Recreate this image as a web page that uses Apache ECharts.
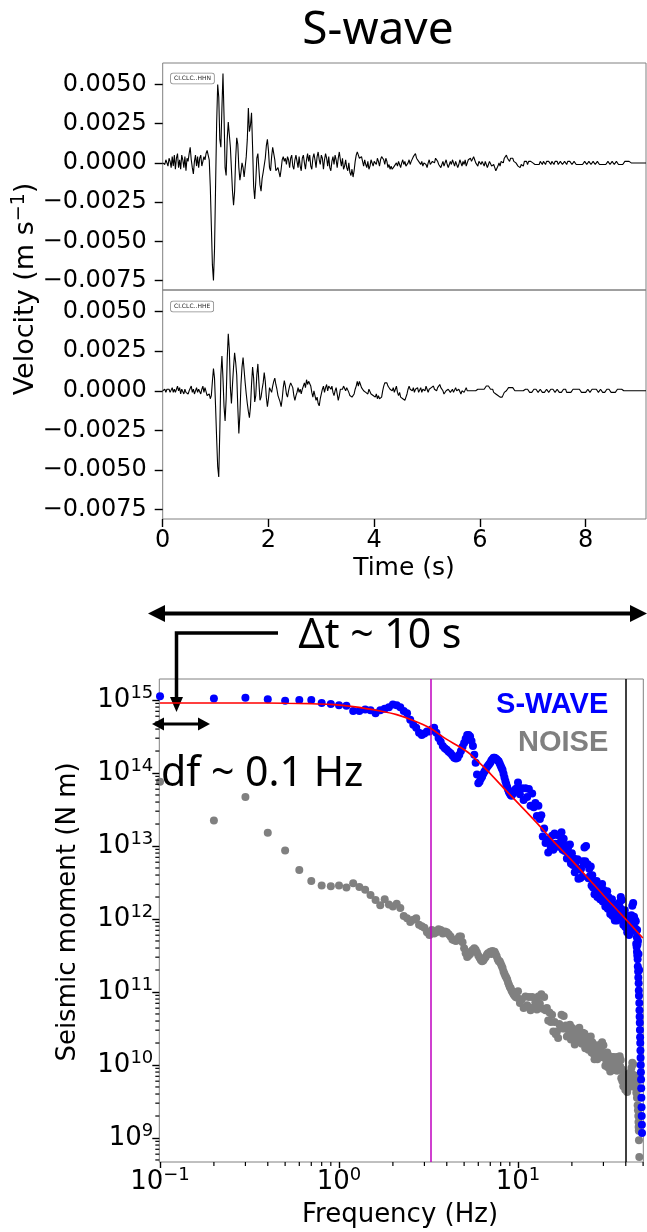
<!DOCTYPE html>
<html><head><meta charset="utf-8">
<script src="https://cdn.jsdelivr.net/npm/echarts@6.0.0/dist/echarts.min.js"></script>
<style>html,body{margin:0;padding:0;background:#fff}#c{width:647px;height:1232px}</style>
</head><body><div id="c"></div>
<script>
// ---------------- DATA ----------------
const waveTimeStep = 0.02; // s, sampling of the traces below
// velocity traces in mm/s (1e-3 m/s), one value per 0.02 s, 0 .. 9.14 s
const hhnVelMm = [
0,0.1,-0.1,0.2,0.0,-0.2,0.3,0.1,-0.3,0.4,
-0.2,0.5,-0.4,0.3,0.6,-0.3,0.2,-0.4,0.5,0.2,
-0.3,0.4,-0.5,0.3,0.1,0.6,1.0,0.2,-0.3,-0.7,
0.1,0.5,-0.2,0.4,-0.3,0.3,0.5,-0.2,0.1,0.4,
0.2,0.6,0.8,0.5,0.2,-1.5,-4.0,-6.5,-7.5,-5.5,
-1.5,2.5,5.0,4.2,1.5,1.0,3.5,5.7,3.0,-0.3,
-0.8,1.5,2.6,1.8,1.0,-0.4,-1.8,-2.7,-1.8,0.3,
1.6,1.2,-0.3,-1.1,-0.6,0.0,-0.3,-0.9,-0.8,0.4,
1.5,3.5,2.0,2.4,3.2,1.0,-1.5,-2.3,-1.2,0.3,
0.6,-0.4,-1.4,-1.8,-1.0,-0.6,-0.7,0.3,1.1,1.5,
0.8,-0.3,-0.5,0.4,1.0,1.1,0.2,-0.5,-0.6,-0.3,
-0.6,-0.9,-0.4,0.2,0.4,0.1,0.3,-0.1,0.4,0.2,
-0.3,0.3,0.5,-0.2,-0.4,0.2,0.5,0.1,-0.3,0.4,
-0.2,-0.5,0.3,0.5,0.0,-0.4,0.2,0.6,0.1,0.5,
-0.2,-0.4,0.3,0.6,0.2,-0.3,0.4,0.7,0.2,-0.1,
0.5,0.3,-0.4,0.2,0.6,0.3,-0.2,0.4,-0.3,-0.5,
0.1,0.4,-0.1,0.5,0.2,-0.3,0.3,0.7,0.2,-0.2,
0.3,-0.4,-0.2,0.2,-0.3,-0.5,0.0,-0.6,-0.8,-0.4,
-0.9,-0.5,0.1,0.5,0.7,0.5,0.3,0.4,0.4,0.1,
-0.2,0.2,-0.1,-0.3,0.1,-0.4,-0.2,0.2,0.1,-0.2,
0.1,0.2,-0.1,0.3,0.1,-0.2,0.2,0.4,0.5,0.2,
-0.1,0.3,0.1,-0.3,-0.1,-0.4,-0.2,-0.4,-0.5,-0.2,
-0.3,0.0,-0.2,0.1,-0.1,-0.3,0.0,0.2,-0.1,0.1,
-0.2,-0.3,0.0,0.2,-0.1,0.1,0.2,0.4,0.5,0.6,
0.3,0.4,0.1,0.2,-0.1,0.1,-0.2,0.0,0.1,-0.1,
-0.3,0.0,0.2,-0.1,-0.2,0.1,0.2,0.0,0.3,0.3,
0.1,-0.1,0.0,-0.3,-0.1,0.1,-0.2,0.0,0.2,-0.1,
-0.3,-0.1,0.1,-0.1,0.2,0.0,-0.2,0.1,0.0,-0.3,
-0.1,0.2,0.0,-0.2,0.1,-0.1,0.2,-0.2,0.0,0.2,
0.1,0.3,0.1,0.2,0.4,0.2,0.0,0.1,-0.2,0.1,
0.2,-0.1,0.1,0.0,-0.2,0.1,-0.1,-0.3,-0.1,0.1,
0.0,-0.2,-0.3,-0.1,-0.3,-0.5,-0.4,-0.2,0.0,-0.2,
0.1,0.2,0.0,0.3,0.4,0.5,0.3,0.2,0.1,0.3,
0.4,0.3,0.1,0.2,0.0,-0.1,-0.2,-0.1,-0.3,-0.1,
0.0,-0.2,0.1,0.0,0.1,-0.1,0.1,0.0,0.1,0.1,
0.0,0.1,-0.1,0.0,-0.1,-0.2,-0.1,0.1,0.0,-0.1,
0.1,0.0,-0.1,0.1,0.0,0.1,0.0,-0.1,0.1,0.0,
-0.1,0.1,0.0,0.1,-0.1,0.0,0.1,0.0,-0.1,0.0,
0.1,0.0,-0.1,0.1,0.0,0.1,0.0,-0.1,0.0,0.1,
0.0,-0.1,-0.2,-0.1,0.0,-0.1,-0.2,-0.1,0.0,0.1,
0.0,-0.1,0.0,0.1,0.0,-0.1,0.0,0.1,0.0,-0.1,
0.0,0.1,0.0,-0.1,0.0,-0.1,-0.2,-0.1,0.0,-0.1,
0.0,0.1,0.0,-0.1,0.0,0.1,0.0,-0.1,0.0,0.1,
0.0,-0.1,-0.2,-0.1,0.0,-0.1,0.0,0.1,0.2,0.1,
0.0,0.1,0.0,0,0,0,0,0,0,0,
0,0,0,0,0,0,0,0
];
const hheVelMm = [
0,0.0,0.1,-0.1,0.1,0.0,0.1,-0.1,0.0,0.2,
-0.1,0.1,-0.1,0.1,0.3,0.0,0.2,-0.2,0.1,0.0,
-0.2,0.1,-0.1,0.0,-0.2,0.0,0.1,0.3,-0.1,0.1,
-0.2,0.0,0.2,-0.1,0.1,0.0,-0.2,0.1,0.3,-0.1,
0.2,0.1,-0.3,-0.4,-0.2,-0.5,-0.3,0.6,1.4,0.8,
-1.0,-3.0,-4.8,-5.45,-2.5,1.0,2.2,0.8,-1.0,-1.9,
-0.5,2.0,3.6,2.6,0.2,-0.8,0.4,1.5,2.4,1.8,
1.0,-1.0,-2.7,-1.5,0.4,1.5,2.1,1.3,0.5,-0.2,
-0.8,-1.3,-1.7,-1.0,0.4,1.5,0.8,-0.7,-0.3,1.0,
1.7,0.5,-0.6,-0.4,0.1,0.5,1.15,0.6,-0.4,-1.0,
-0.5,0.2,0.3,-0.1,0.3,0.6,0.8,0.4,0.1,-0.3,
-0.4,-0.7,-1.0,-0.5,0.2,0.65,0.3,-0.2,-0.4,0.0,
0.3,0.5,0.6,0.2,-0.3,-0.6,-0.3,-0.1,0.2,-0.1,
0.1,-0.2,0.1,0.3,0.5,0.2,0.7,0.4,0.6,0.7,
0.3,-0.1,-0.4,0.0,-0.3,-0.6,-0.4,-0.8,-0.95,-0.5,
-0.2,0.1,0.3,-0.1,0.2,0.4,0.0,0.3,0.4,0.1,
0.3,-0.1,-0.3,0.0,0.2,-0.2,-0.6,-0.3,0.1,0.2,
0.1,0.3,0.2,0.0,0.2,0.1,-0.1,-0.3,-0.2,-0.4,
-0.5,-0.2,0.1,0.3,0.6,0.3,0.6,0.4,0.2,0.3,
0.0,0.1,-0.1,0.0,-0.2,0.1,0.0,-0.2,-0.1,-0.3,
-0.2,-0.4,-0.2,-0.5,-0.3,-0.5,-0.6,-0.4,0.0,0.3,
0.5,0.4,0.5,0.3,0.4,0.1,0.2,0.0,0.2,-0.1,
0.1,0.3,-0.1,-0.3,-0.1,-0.4,-0.3,-0.5,-0.4,-0.6,
-0.5,-0.2,0.1,0.3,0.1,0.2,0.0,0.2,-0.1,0.1,
0.0,0.2,-0.1,0.0,0.2,-0.1,0.1,0.2,0.0,0.3,
0.1,-0.1,0.1,0.0,0.2,0.1,0.3,0.1,0.2,0.0,
0.2,0.3,0.4,0.2,0.3,0.0,-0.2,-0.1,0.0,-0.1,
0.1,0.0,-0.1,0.0,0.1,-0.1,0.0,0.2,0.0,-0.1,
0.1,0.0,-0.2,0.0,0.1,-0.1,0.0,0.2,0.0,-0.1,
0.0,0.1,0.0,-0.1,0.0,0.1,0.0,-0.1,0.1,0.0,
0.1,0.2,0.1,0.2,0.1,0.2,0.3,0.2,0.3,0.2,
0.1,0.0,0.1,-0.1,0.0,-0.2,-0.1,-0.3,-0.2,-0.4,
-0.3,-0.4,-0.3,-0.1,-0.2,0.0,0.1,0.2,0.3,0.2,
0.1,0.2,0.1,0.0,0.1,0.0,0.1,0.0,-0.1,0.0,
0.1,0.0,-0.1,0.1,0.0,0.1,0.0,-0.1,-0.2,-0.1,
0.0,0.1,0.0,0.1,0.0,-0.1,0.0,0.1,0.0,-0.1,
-0.2,-0.1,0.0,0.1,0.0,-0.1,0.0,0.1,0.2,0.1,
0.0,-0.1,0.0,0.1,0.0,-0.1,-0.2,-0.1,0.0,0.1,
0.0,0.1,-0.1,0.0,-0.1,-0.2,-0.1,0.0,0.1,0.2,
0.1,0.2,0.1,0.0,0.1,0.0,-0.1,0.0,-0.1,-0.2,
-0.1,0.0,0.1,0.0,-0.1,0.0,0.1,0.2,0.1,0.0,
0.1,0.0,-0.1,0.0,0.1,0.0,-0.1,-0.2,-0.1,0.0,
0.1,0.0,0.1,0.0,-0.1,0.0,-0.1,-0.2,-0.1,0.0,
0.1,0.0,0.1,0.0,0.1,0.0,0,0,0,0,
0,0,0,0,0,0,0,0,0,0,
0,0,0,0,0,0,0,0
];
const stationLabels = ['CI.CLC..HHN', 'CI.CLC..HHE'];
const velocityTicks = [-0.0075, -0.005, -0.0025, 0, 0.0025, 0.005];
const timeTicks = [0, 2, 4, 6, 8];

// spectra: [frequency (Hz), log10 seismic moment (N m)]
const swaveSpectrum = [
[0.1,15.05],[0.2,15.02],[0.3,15.03],[0.4,15.01],[0.5,14.99],[0.6,15.00],[0.7,15.00],[0.8,14.96],[0.9,14.945],[1.0,14.93],
[1.1,14.92],[1.2,14.85],[1.3,14.85],[1.4,14.87],[1.5,14.86],[1.6,14.82],[1.7,14.86],[1.8,14.88],[1.9,14.90],[2.0,14.94],
[2.1,14.93],[2.2,14.90],[2.3,14.85],[2.4,14.82],[2.5,14.73],[2.6,14.66],[2.7,14.62],[2.8,14.55],[2.9,14.52],[3.0,14.54],
[3.1,14.57],[3.2,14.57],[3.3,14.60],[3.4,14.62],[3.5,14.55],[3.6,14.48],[3.7,14.43],[3.8,14.37],[3.9,14.34],[4.0,14.32],
[4.1,14.29],[4.2,14.27],[4.3,14.24],[4.4,14.21],[4.5,14.20],[4.6,14.21],[4.7,14.25],[4.8,14.30],[4.9,14.36],[5.0,14.41],
[5.1,14.47],[5.2,14.52],[5.3,14.52],[5.4,14.50],[5.5,14.44],[5.6,14.37],[5.7,14.25],[5.8,14.14],[5.9,13.98],[6.0,13.86],
[6.1,13.88],[6.2,13.92],[6.3,13.95],[6.4,13.99],[6.5,14.02],[6.6,14.04],[6.7,14.08],[6.8,14.10],[6.9,14.12],[7.0,14.14],
[7.1,14.17],[7.2,14.19],[7.3,14.21],[7.4,14.21],[7.5,14.20],[7.6,14.19],[7.7,14.17],[7.8,14.16],[7.9,14.13],[8.0,14.10],
[8.1,14.07],[8.2,14.04],[8.3,13.99],[8.4,13.94],[8.5,13.89],[8.6,13.85],[8.7,13.81],[8.8,13.77],[8.9,13.74],[9.0,13.72],
[9.1,13.70],[9.2,13.69],[9.3,13.71],[9.4,13.73],[9.5,13.75],[9.6,13.76],[9.7,13.78],[9.8,13.77],[9.9,13.79],
[10.00,13.87],[10.25,13.71],[10.50,13.79],[10.75,13.63],[11.00,13.79],[11.25,13.67],[11.50,13.78],[11.75,13.55],
[12.00,13.72],[12.25,13.53],[12.50,13.59],[12.75,13.41],[13.00,13.55],[13.25,13.37],[13.50,13.42],[13.75,13.13],
[14.00,13.24],[14.25,13.04],[14.50,13.09],[14.75,12.91],[15.00,13.05],[15.25,12.98],[15.50,13.14],[15.75,12.95],
[16.00,13.17],[16.25,13.03],[16.50,13.15],[16.75,12.99],[17.00,13.15],[17.25,13.05],[17.50,13.19],[17.75,12.95],
[18.00,13.10],[18.25,12.93],[18.50,13.01],[18.75,12.83],[19.00,12.97],[19.25,12.88],[19.50,13.02],[19.75,12.76],
[20.00,12.90],[20.25,12.74],[20.50,12.83],[20.75,12.64],[21.00,12.77],[21.25,12.68],[21.50,12.82],[21.75,12.55],
[22.00,12.68],[22.25,12.56],[22.50,12.69],[22.75,12.58],[23.00,12.79],[23.25,12.77],[23.50,12.98],[23.75,12.79],
[24.00,13.00],[24.25,12.75],[24.50,12.75],[24.75,12.56],[25.00,12.69],[25.25,12.59],[25.50,12.72],[25.75,12.46],
[26.00,12.60],[26.25,12.43],[26.50,12.51],[26.75,12.34],[27.00,12.49],[27.25,12.39],[27.50,12.52],[27.75,12.30],
[28.00,12.47],[28.25,12.33],[28.50,12.43],[28.75,12.27],[29.00,12.43],[29.25,12.34],[29.50,12.48],[29.75,12.24],
[30.00,12.40],[30.25,12.24],[30.50,12.33],[30.75,12.17],[31.00,12.33],[31.25,12.24],[31.50,12.38],[31.75,12.14],
[32.00,12.30],[32.25,12.14],[32.50,12.23],[32.75,12.07],[33.00,12.22],[33.25,12.13],[33.50,12.27],[33.75,12.04],
[34.00,12.20],[34.25,12.04],[34.50,12.13],[34.75,11.98],[35.00,12.15],[35.25,12.06],[35.50,12.20],[35.75,11.98],
[36.00,12.16],[36.25,12.01],[36.50,12.11],[36.75,12.01],[37.00,12.23],[37.25,12.15],[37.50,12.30],[37.75,12.08],
[38.00,12.26],[38.25,12.05],[38.50,12.09],[38.75,11.92],[39.00,12.07],[39.25,11.98],[39.50,12.12],[39.75,11.89],
[40.00,12.05],[40.25,11.89],[40.50,11.98],[40.75,11.82],[41.00,11.97],[41.25,11.87],[41.50,12.00],[41.75,11.78],
[42.00,11.95],[42.25,11.82],[42.50,11.93],[42.75,11.83],[43.00,12.05],[43.25,12.00],[43.50,12.18],[43.75,12.00],
[44.00,12.22],[44.25,12.00],[44.50,12.03],[44.75,11.85],[45.00,11.99],[45.25,11.87],[45.50,11.97],[45.75,11.66],
[46.0,11.62],[46.1,11.75],[46.2,11.55],[46.3,11.85],[46.4,11.50],[46.5,11.65],[46.6,11.45],[46.7,11.35],
[46.8,11.70],[46.9,11.28],[47.0,11.20],[47.1,11.52],[47.2,11.12],[47.3,11.02],[47.4,10.95],[47.5,11.30],[47.6,10.85],[47.7,10.75],
[47.8,10.66],[47.9,10.58],[48.0,10.48],[48.1,10.38],[48.2,10.30],[48.3,10.20],[48.4,10.10],[48.5,10.00],[48.6,9.90],[48.7,9.80],
[48.8,9.68],[48.9,9.55],[49.0,9.42],[49.1,9.30],[49.2,9.18],[49.3,9.07]
];
const noiseSpectrum = [
[0.1,13.88],[0.2,13.35],[0.3,13.67],[0.4,13.18],[0.5,12.94],[0.6,12.67],[0.7,12.52],[0.8,12.46],[0.9,12.45],[1.0,12.46],
[1.1,12.43],[1.2,12.49],[1.3,12.44],[1.4,12.40],[1.5,12.33],[1.6,12.26],[1.7,12.19],[1.8,12.27],[1.9,12.20],[2.0,12.17],
[2.1,12.21],[2.2,12.15],[2.3,12.04],[2.4,12.01],[2.5,11.96],[2.6,11.99],[2.7,12.01],[2.8,11.92],[2.9,11.90],[3.0,11.88],
[3.1,11.82],[3.2,11.78],[3.3,11.85],[3.4,11.80],[3.5,11.82],[3.6,11.86],[3.7,11.85],[3.8,11.80],[3.9,11.83],[4.0,11.82],
[4.1,11.79],[4.2,11.76],[4.3,11.72],[4.4,11.71],[4.5,11.70],[4.6,11.73],[4.7,11.76],[4.8,11.76],[4.9,11.68],[5.0,11.60],
[5.1,11.53],[5.2,11.48],[5.3,11.50],[5.4,11.52],[5.5,11.56],[5.6,11.58],[5.7,11.60],[5.8,11.58],[5.9,11.54],[6.0,11.50],
[6.1,11.47],[6.2,11.44],[6.3,11.42],[6.4,11.43],[6.5,11.46],[6.6,11.48],[6.7,11.51],[6.8,11.53],[6.9,11.53],[7.0,11.55],
[7.1,11.52],[7.2,11.56],[7.3,11.54],[7.4,11.55],[7.5,11.52],[7.6,11.49],[7.7,11.45],[7.8,11.42],[7.9,11.42],[8.0,11.39],
[8.1,11.36],[8.2,11.33],[8.3,11.28],[8.4,11.25],[8.5,11.22],[8.6,11.20],[8.7,11.17],[8.8,11.13],[8.9,11.10],[9.0,11.07],
[9.1,11.05],[9.2,11.02],[9.3,11.00],[9.4,10.98],[9.5,10.96],[9.6,10.95],[9.7,10.93],[9.8,10.93],[9.9,10.92],
[10.00,11.01],[10.25,10.85],[10.50,10.90],[10.75,10.78],[11.00,10.94],[11.25,10.82],[11.50,10.93],[11.75,10.75],
[12.00,10.93],[12.25,10.79],[12.50,10.86],[12.75,10.76],[13.00,10.94],[13.25,10.84],[13.50,10.97],[13.75,10.77],
[14.00,10.93],[14.25,10.75],[14.50,10.78],[14.75,10.61],[15.00,10.72],[15.25,10.59],[15.50,10.69],[15.75,10.46],
[16.00,10.59],[16.25,10.42],[16.50,10.46],[16.75,10.37],[17.00,10.56],[17.25,10.51],[17.50,10.69],[17.75,10.50],
[18.00,10.67],[18.25,10.50],[18.50,10.54],[18.75,10.39],[19.00,10.52],[19.25,10.42],[19.50,10.55],[19.75,10.35],
[20.00,10.51],[20.25,10.36],[20.50,10.42],[20.75,10.28],[21.00,10.42],[21.25,10.34],[21.50,10.49],[21.75,10.32],
[22.00,10.51],[22.25,10.36],[22.50,10.42],[22.75,10.29],[23.00,10.44],[23.25,10.32],[23.50,10.43],[23.75,10.23],
[24.00,10.39],[24.25,10.25],[24.50,10.32],[24.75,10.21],[25.00,10.38],[25.25,10.27],[25.50,10.39],[25.75,10.17],
[26.00,10.31],[26.25,10.16],[26.50,10.22],[26.75,10.08],[27.00,10.22],[27.25,10.13],[27.50,10.27],[27.75,10.08],
[28.00,10.25],[28.25,10.13],[28.50,10.22],[28.75,10.11],[29.00,10.28],[29.25,10.18],[29.50,10.31],[29.75,10.11],
[30.00,10.27],[30.25,10.10],[30.50,10.14],[30.75,9.99],[31.00,10.12],[31.25,10.03],[31.50,10.17],[31.75,9.97],
[32.00,10.13],[32.25,9.98],[32.50,10.04],[32.75,9.91],[33.00,10.06],[33.25,9.97],[33.50,10.11],[33.75,9.93],
[34.00,10.11],[34.25,9.98],[34.50,10.06],[34.75,9.93],[35.00,10.08],[35.25,9.98],[35.50,10.11],[35.75,9.92],
[36.00,10.09],[36.25,9.97],[36.50,10.06],[36.75,9.95],[37.00,10.12],[37.25,9.98],[37.50,10.07],[37.75,9.82],
[38.00,9.94],[38.25,9.78],[38.50,9.84],[38.75,9.71],[39.00,9.86],[39.25,9.75],[39.50,9.87],[39.75,9.66],
[40.00,9.81],[40.25,9.67],[40.50,9.74],[40.75,9.63],[41.00,9.80],[41.25,9.72],[41.50,9.87],[41.75,9.70],
[42.00,9.89],[42.25,9.77],[42.50,9.86],[42.75,9.77],[43.00,9.96],[43.25,9.88],[43.50,10.03],[43.75,9.84],
[44.00,10.01],[44.25,9.83],[44.50,9.86],[44.75,9.70],[45.00,9.82],[45.25,9.71],[45.50,9.83],
[45.6,9.85],[45.8,9.62],[46.0,9.74],[46.2,9.55],[46.4,9.66],[46.6,9.45],[46.8,9.38],[47.0,9.30],[47.1,9.22],
[47.2,9.15],[47.3,9.10],[47.4,8.97],[47.6,8.74]
];
const modelSpectrum = [
[0.1,14.96],[0.3,14.96],[0.5,14.955],[0.7,14.95],[0.9,14.94],[1.2,14.91],[1.7,14.85],[2.1,14.80],[2.6,14.72],[3.2,14.62],
[4.0,14.46],[4.7,14.36],[5.4,14.26],[6.7,14.04],[8.27,13.80],[10.26,13.56],[12.7,13.32],[15.7,13.07],[19.5,12.83],[24.2,12.58],
[29.9,12.33],[37.2,12.08],[49.8,11.74]
];
const cornerFrequency = 3.2;   // Hz, magenta line
const upperFrequency = 40;     // Hz, black line
const freqTickExponents = [-1, 0, 1];
const momentTickExponents = [9, 10, 11, 12, 13, 14, 15];

// ---------------- CHART ----------------
const FREQ_MIN = -1.004, FREQ_MAX = 1.700;   // log10 Hz
const MOM_MIN = 8.671, MOM_MAX = 15.288;     // log10 N m
function minorLogTicks(d0, d1, lo, hi) {
  const out = [];
  for (let d = d0; d <= d1; d++) for (let k = 2; k <= 9; k++) {
    const v = d + Math.log10(k);
    if (v > lo && v < hi) out.push(v);
  }
  return out;
}
const minorX = minorLogTicks(-2, 1, FREQ_MIN, FREQ_MAX);
const minorY = minorLogTicks(8, 15, MOM_MIN, MOM_MAX);

const MINUS = '\u2212';
const velFmt = v => (v < 0 ? MINUS : '') + Math.abs(v).toFixed(4);
const powFmt = e => '{b|10}{s|' + (e < 0 ? MINUS + (-e) : e) + '}';
const powRich = {
  b: { fontFamily: 'DejaVu Sans', fontSize: 26, color: '#000' },
  s: { fontFamily: 'DejaVu Sans', fontSize: 18, color: '#000', padding: [0, 0, 14, 0] }
};
const frameColor = '#808080';
const tickStyle = { color: '#000', width: 1.4 };
const noLine = { show: false, onZero: false };

const chart = echarts.init(document.getElementById('c'), null, { renderer: 'canvas' });

function waveAxisY(grid) {
  return {
    gridIndex: grid, type: 'value', position: 'left', min: -0.0081, max: 0.00637,
    axisLine: noLine, splitLine: { show: false },
    axisTick: { show: true, customValues: velocityTicks, length: 8, lineStyle: tickStyle },
    axisLabel: { customValues: velocityTicks, formatter: velFmt, fontFamily: 'DejaVu Sans', fontSize: 24, color: '#000', margin: 16 }
  };
}
// minor log ticks drawn as short marks just outside the spectrum frame
function minorTickSeries(values, dim) {
  return {
    type: 'custom', xAxisIndex: 2, yAxisIndex: 2, clip: false, silent: true, z: 3,
    data: values.map(v => dim === 'x' ? [v, MOM_MIN] : [FREQ_MIN, v]),
    renderItem: (params, api) => {
      const p = api.coord([api.value(0), api.value(1)]);
      const shape = dim === 'x'
        ? { x1: p[0], y1: p[1], x2: p[0], y2: p[1] + 4 }
        : { x1: p[0] - 4, y1: p[1], x2: p[0], y2: p[1] };
      return { type: 'line', shape, style: { stroke: '#000', lineWidth: 1.2 } };
    }
  };
}

const option = {
  animation: false,
  backgroundColor: '#fff',
  textStyle: { fontFamily: 'DejaVu Sans' },
  grid: [
    { left: 162.7, top: 63, width: 483.3, height: 227, show: true, borderColor: frameColor, borderWidth: 1 },
    { left: 162.7, top: 290, width: 483.3, height: 229, show: true, borderColor: frameColor, borderWidth: 1 },
    { left: 159.3, top: 679, width: 484, height: 483, show: true, borderColor: frameColor, borderWidth: 1 }
  ],
  xAxis: [
    { gridIndex: 0, type: 'value', position: 'bottom', min: 0, max: 9.14,
      axisLine: noLine, axisTick: { show: false }, axisLabel: { show: false }, splitLine: { show: false } },
    { gridIndex: 1, type: 'value', position: 'bottom', min: 0, max: 9.14,
      axisLine: noLine, splitLine: { show: false },
      axisTick: { show: true, customValues: timeTicks, length: 8, lineStyle: tickStyle },
      axisLabel: { customValues: timeTicks, fontFamily: 'DejaVu Sans', fontSize: 24, color: '#000', margin: 10 } },
    { gridIndex: 2, type: 'value', position: 'bottom', min: FREQ_MIN, max: FREQ_MAX,
      axisLine: noLine, splitLine: { show: false },
      axisTick: { show: true, customValues: freqTickExponents, length: 6, lineStyle: tickStyle },
      axisLabel: { customValues: freqTickExponents, formatter: powFmt, rich: powRich, margin: 4 } }
  ],
  yAxis: [
    waveAxisY(0),
    waveAxisY(1),
    { gridIndex: 2, type: 'value', position: 'left', min: MOM_MIN, max: MOM_MAX,
      axisLine: noLine, splitLine: { show: false },
      axisTick: { show: true, customValues: momentTickExponents, length: 7, lineStyle: tickStyle },
      axisLabel: { customValues: momentTickExponents, formatter: powFmt, rich: powRich, margin: 6 } }
  ],
  series: [
    { type: 'line', xAxisIndex: 0, yAxisIndex: 0, showSymbol: false, symbol: 'none',
      lineStyle: { color: '#000', width: 1.1 },
      data: hhnVelMm.map((v, i) => [i * waveTimeStep, v / 1000]) },
    { type: 'line', xAxisIndex: 1, yAxisIndex: 1, showSymbol: false, symbol: 'none',
      lineStyle: { color: '#000', width: 1.1 },
      data: hheVelMm.map((v, i) => [i * waveTimeStep, v / 1000]) },
    { type: 'scatter', xAxisIndex: 2, yAxisIndex: 2, symbolSize: 8,
      itemStyle: { color: '#808080', opacity: 1 },
      data: noiseSpectrum.map(([f, m]) => [Math.log10(f), m]) },
    { type: 'scatter', xAxisIndex: 2, yAxisIndex: 2, symbolSize: 8,
      itemStyle: { color: '#0000ff', opacity: 1 },
      data: swaveSpectrum.map(([f, m]) => [Math.log10(f), m]) },
    { type: 'line', xAxisIndex: 2, yAxisIndex: 2, showSymbol: false, symbol: 'none', smooth: 0.3,
      lineStyle: { color: '#ff0000', width: 1.6 }, z: 5,
      data: modelSpectrum.map(([f, m]) => [Math.log10(f), m]),
      markLine: { symbol: 'none', silent: true, animation: false, label: { show: false },
        data: [
          { xAxis: Math.log10(cornerFrequency), lineStyle: { color: '#bf00bf', width: 1.5, type: 'solid' } },
          { xAxis: Math.log10(upperFrequency), lineStyle: { color: '#000', width: 1.5, type: 'solid' } }
        ] } },
    minorTickSeries(minorX, 'x'),
    minorTickSeries(minorY, 'y')
  ],
  graphic: [
    { type: 'text', x: 378, y: 31, style: { text: 'S-wave', font: '46px "Noto Sans"', fill: '#000', align: 'center', verticalAlign: 'middle' } },
    { type: 'text', x: 171, y: 78.5, z: 10, style: { text: stationLabels[0], font: '6px "DejaVu Sans"', fill: '#222', align: 'left', verticalAlign: 'middle',
      backgroundColor: '#fff', borderColor: '#888', borderWidth: 0.8, borderRadius: 2, padding: [2, 3] } },
    { type: 'text', x: 171, y: 306.5, z: 10, style: { text: stationLabels[1], font: '6px "DejaVu Sans"', fill: '#222', align: 'left', verticalAlign: 'middle',
      backgroundColor: '#fff', borderColor: '#888', borderWidth: 0.8, borderRadius: 2, padding: [2, 3] } },
    { type: 'text', x: 26, y: 289, rotation: Math.PI / 2, style: { text: 'Velocity (m s{s|' + MINUS + '1})', font: '27px "DejaVu Sans"', fill: '#000', align: 'center', verticalAlign: 'middle',
      rich: { s: { fontFamily: 'DejaVu Sans', fontSize: 19, fill: '#000', padding: [0, 0, 14, 0] } } } },
    { type: 'text', x: 404, y: 568, style: { text: 'Time (s)', font: '25px "DejaVu Sans"', fill: '#000', align: 'center', verticalAlign: 'middle' } },
    { type: 'text', x: 68, y: 912, rotation: Math.PI / 2, style: { text: 'Seismic moment (N m)', font: '26px "DejaVu Sans"', fill: '#000', align: 'center', verticalAlign: 'middle' } },
    { type: 'text', x: 400, y: 1215, style: { text: 'Frequency (Hz)', font: '26px "DejaVu Sans"', fill: '#000', align: 'center', verticalAlign: 'middle' } },
    // long double arrow
    { type: 'line', shape: { x1: 160, y1: 613.5, x2: 635, y2: 613.5 }, style: { stroke: '#000', lineWidth: 4 } },
    { type: 'polygon', shape: { points: [[148, 613.5], [165, 605], [165, 622]] }, style: { fill: '#000' } },
    { type: 'polygon', shape: { points: [[647, 613.5], [630, 605], [630, 622]] }, style: { fill: '#000' } },
    { type: 'text', x: 380, y: 636, style: { text: '\u0394t ~ 10 s', font: '41px "Noto Sans"', fill: '#000', align: 'center', verticalAlign: 'middle' } },
    // elbow arrow
    { type: 'polyline', shape: { points: [[278, 633], [176.5, 633], [176.5, 700]] }, style: { stroke: '#000', lineWidth: 3.5, fill: null } },
    { type: 'polygon', shape: { points: [[176.5, 712], [170, 697], [183, 697]] }, style: { fill: '#000' } },
    // small double arrow
    { type: 'line', shape: { x1: 160, y1: 724, x2: 202, y2: 724 }, style: { stroke: '#000', lineWidth: 3 } },
    { type: 'polygon', shape: { points: [[152, 724], [164, 717.5], [164, 730.5]] }, style: { fill: '#000' } },
    { type: 'polygon', shape: { points: [[210, 724], [198, 717.5], [198, 730.5]] }, style: { fill: '#000' } },
    { type: 'text', x: 161, y: 774, style: { text: 'df ~ 0.1 Hz', font: '41px "Noto Sans"', fill: '#000', align: 'left', verticalAlign: 'middle' } },
    // legend texts
    { type: 'text', x: 608.3, y: 704.5, z: 10, style: { text: 'S-WAVE', font: 'bold 29px "Liberation Sans"', fill: '#0000ff', align: 'right', verticalAlign: 'middle' } },
    { type: 'text', x: 608.3, y: 742.5, z: 10, style: { text: 'NOISE', font: 'bold 29px "Liberation Sans"', fill: '#808080', align: 'right', verticalAlign: 'middle' } }
  ]
};
chart.setOption(option);
</script></body></html>
